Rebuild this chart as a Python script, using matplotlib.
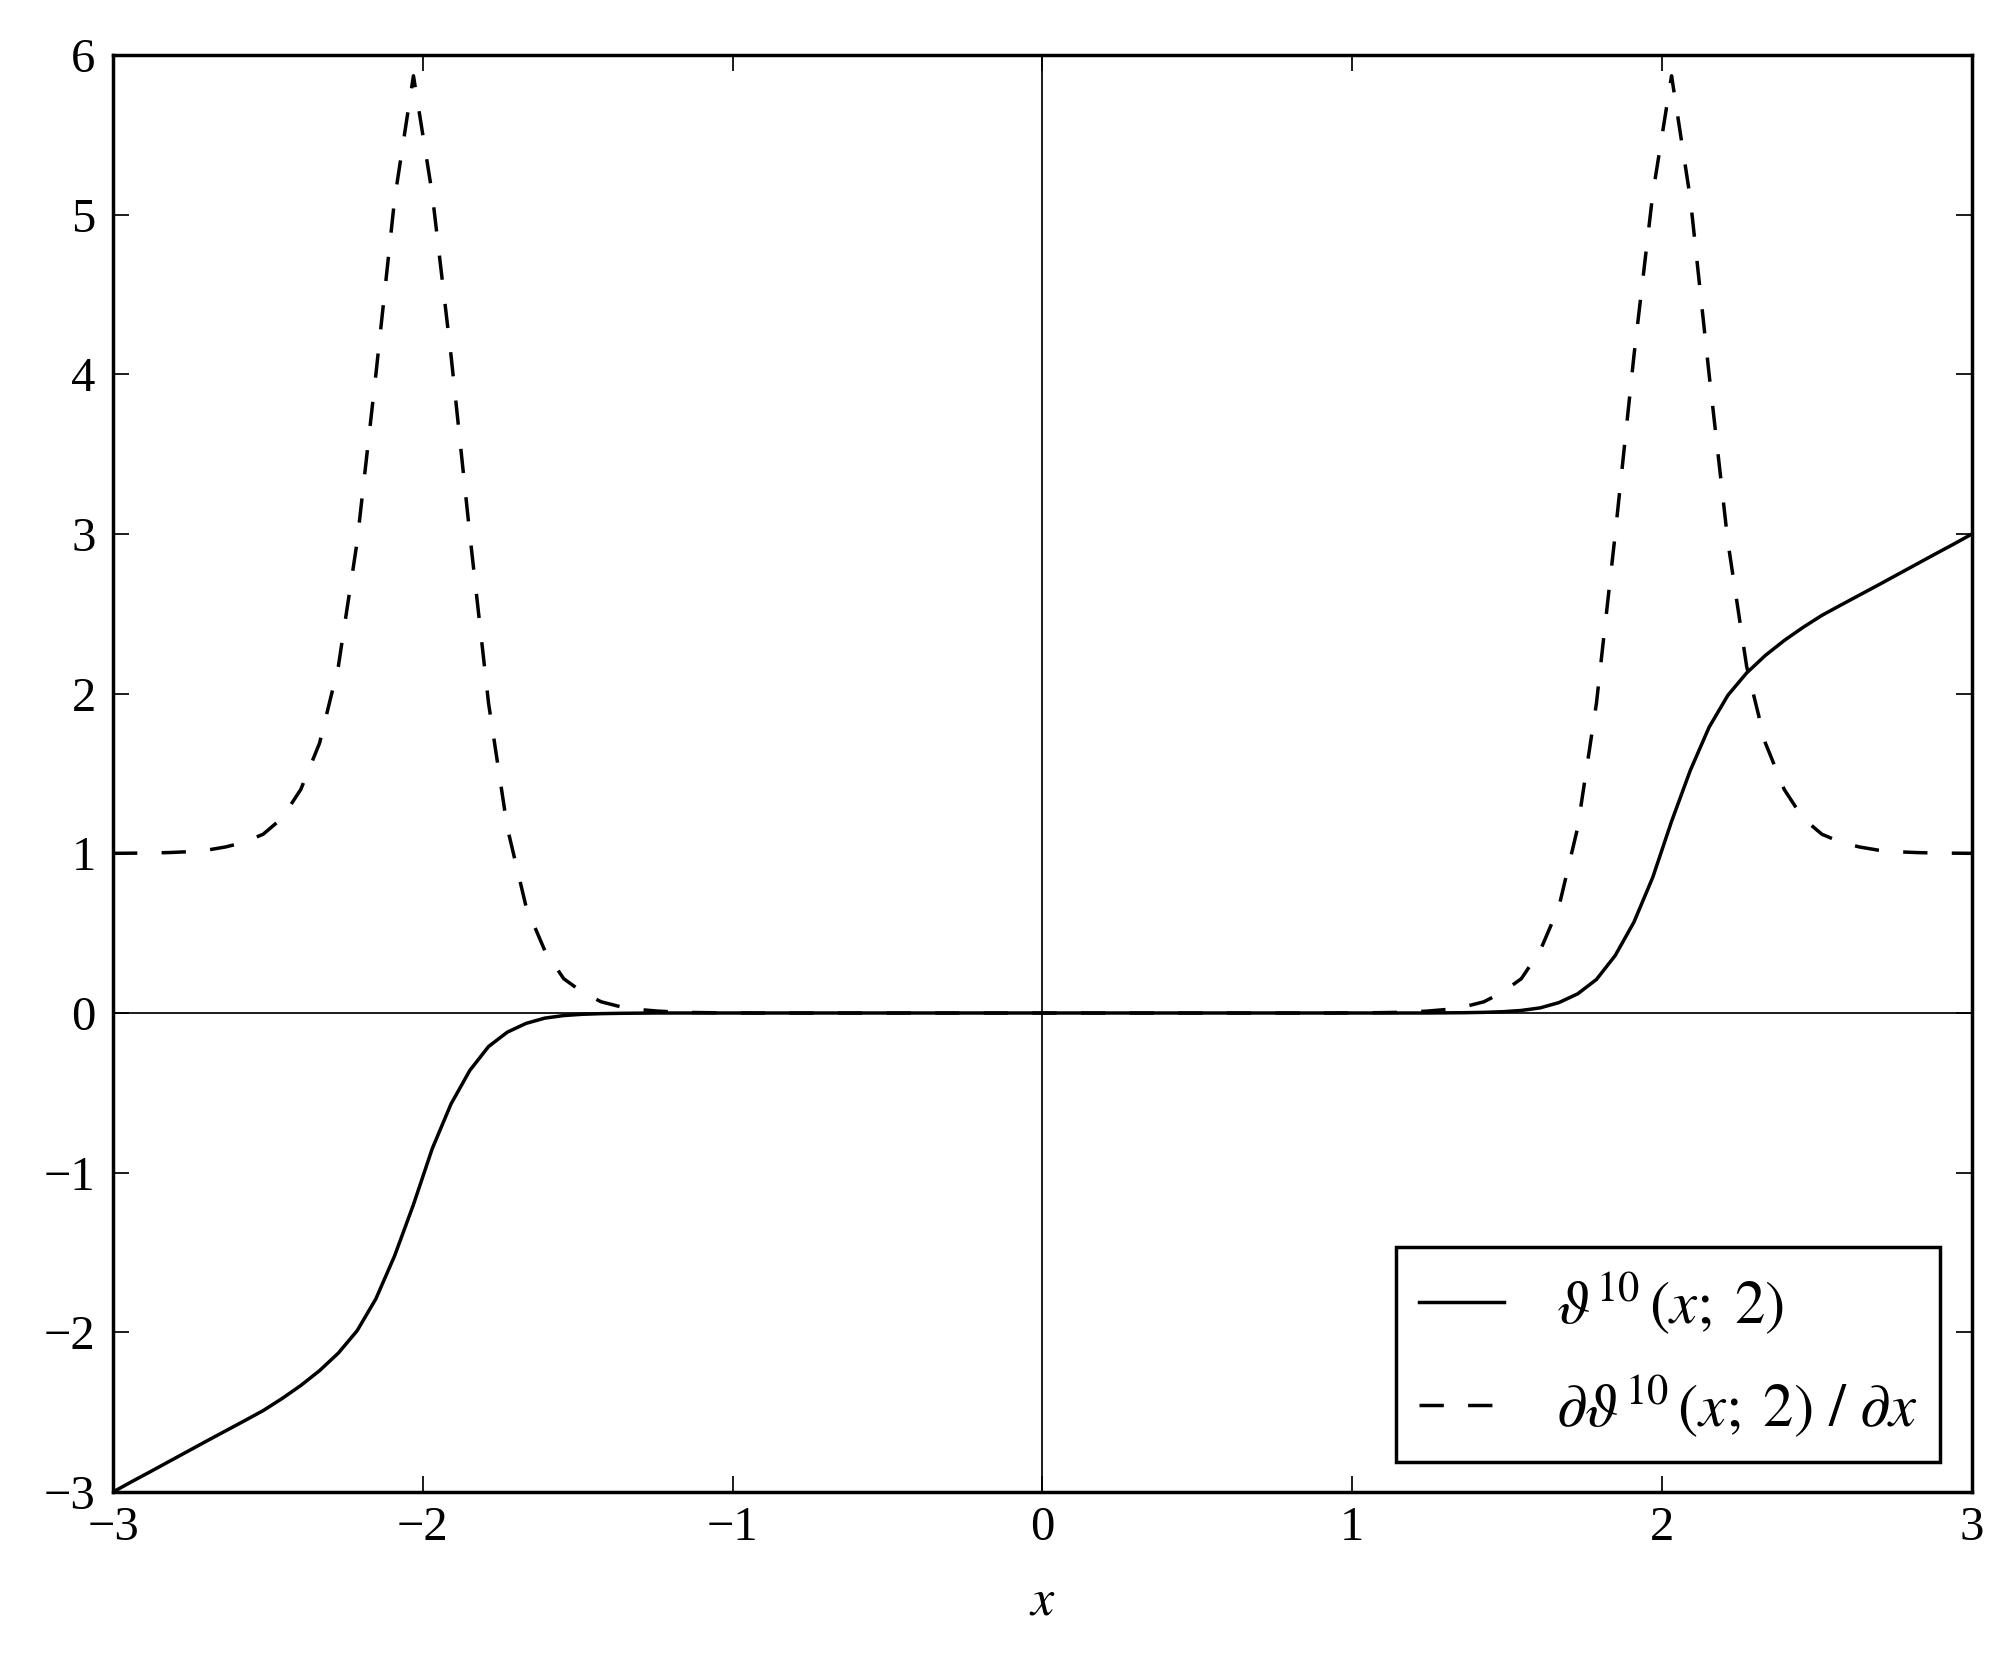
import numpy as np
import matplotlib
matplotlib.use("Agg")
import matplotlib.pyplot as plt

# ---- data ----
x_min, x_max, n_points = -3.0, 3.0, 100
x = np.linspace(x_min, x_max, n_points)   # sampling grid of the curves

theta = [
    -3.0, -2.935, -2.872, -2.808, -2.744, -2.68, -2.617, -2.554, -2.49, -2.415,
    -2.333, -2.24, -2.13, -1.99, -1.79, -1.52, -1.20, -0.85, -0.57, -0.36,
    -0.21, -0.12, -0.065, -0.032, -0.016, -0.008, -0.004, -0.002, -0.001,
    0, 0, 0, 0, 0, 0, 0, 0, 0, 0, 0, 0, 0, 0, 0, 0, 0, 0, 0, 0, 0,
    0, 0, 0, 0, 0, 0, 0, 0, 0, 0, 0, 0, 0, 0, 0, 0, 0, 0, 0, 0, 0,
    0.001, 0.002, 0.004, 0.008, 0.016, 0.032, 0.065, 0.12, 0.21, 0.36,
    0.57, 0.85, 1.20, 1.52, 1.79, 1.99, 2.13, 2.24, 2.333, 2.415,
    2.49, 2.554, 2.617, 2.68, 2.744, 2.808, 2.872, 2.935, 3.0,
]

dtheta = [
    1.0, 1.001, 1.002, 1.005, 1.01, 1.02, 1.04, 1.07, 1.12, 1.22,
    1.40, 1.69, 2.17, 2.95, 4.00, 5.10, 5.87, 5.13, 4.12, 3.00,
    1.94, 1.16, 0.665, 0.39, 0.215, 0.13, 0.07, 0.04, 0.022, 0.012,
    0.006, 0.003, 0.0015, 0.0008,
    0, 0, 0, 0, 0, 0, 0, 0, 0, 0, 0, 0, 0, 0, 0, 0,
    0, 0, 0, 0, 0, 0, 0, 0, 0, 0, 0, 0, 0, 0, 0, 0,
    0.0008, 0.0015, 0.003, 0.006, 0.012, 0.022, 0.04, 0.07, 0.13, 0.215,
    0.39, 0.665, 1.16, 1.94, 3.00, 4.12, 5.13, 5.87, 5.10, 4.00,
    2.95, 2.17, 1.69, 1.40, 1.22, 1.12, 1.07, 1.04, 1.02, 1.01,
    1.005, 1.002, 1.001, 1.0,
]

x_ticks = [-3, -2, -1, 0, 1, 2, 3]
y_ticks = [-3, -2, -1, 0, 1, 2, 3, 4, 5, 6]
label_theta = r"$\vartheta^{10}\,(x;\;2)$"
label_dtheta = r"$\partial\vartheta^{10}\,(x;\;2)\ /\ \partial x$"
x_label = r"$x$"

# ---- style ----
plt.rcParams["font.family"] = ["Liberation Serif", "DejaVu Serif"]
plt.rcParams["mathtext.fontset"] = "stix"

DPI = 250
fig = plt.figure(figsize=(2014 / DPI, 1661 / DPI), dpi=DPI)
ax = fig.add_axes([113 / 2014, 1 - 1492 / 1661, (1972 - 113) / 2014, (1492 - 55) / 1661])

ax.axhline(0, color="black", lw=0.5, zorder=1)
ax.axvline(0, color="black", lw=0.5, zorder=1)

ax.plot(x, theta, color="black", lw=1.0, label=label_theta, zorder=3)
ax.plot(x, dtheta, color="black", lw=1.0, linestyle=(0, (7, 7)),
        label=label_dtheta, zorder=3)

ax.set_xlim(x_min, x_max)
ax.set_ylim(-3, 6)
ax.set_xticks(x_ticks)
ax.set_yticks(y_ticks)
ax.tick_params(which="both", direction="in", length=4.6, width=0.5,
               top=True, right=True, labelsize=14, colors="black")
ax.tick_params(axis="x", pad=4)
ax.tick_params(axis="y", pad=5)
for s in ax.spines.values():
    s.set_linewidth(1.0)

ax.set_xlabel(x_label, fontsize=15, labelpad=8)

leg = ax.legend(loc="lower right", bbox_to_anchor=(1940 / 2014, 1 - 1462 / 1661),
                bbox_transform=fig.transFigure, borderaxespad=0,
                fontsize=17.5, frameon=True, fancybox=False, framealpha=1,
                edgecolor="black", handlelength=1.4, handletextpad=0.85,
                borderpad=0.38, labelspacing=0.6)
leg.get_frame().set_linewidth(1.0)

fig.savefig("out.png", dpi=DPI)
